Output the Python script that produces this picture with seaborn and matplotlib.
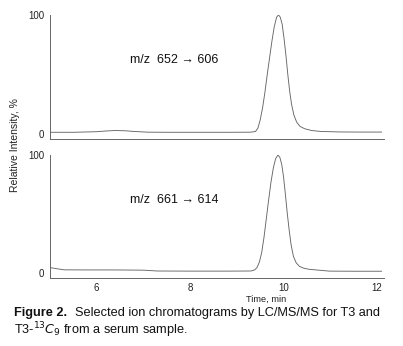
import matplotlib
matplotlib.use("Agg")
import matplotlib.pyplot as plt
from matplotlib.ticker import MultipleLocator, FixedLocator, FuncFormatter
import seaborn as sns
import pandas as pd

# T3 transition m/z 652 -> 606
t3_time = [5.00, 5.50, 6.00, 6.20, 6.40, 6.60, 6.80, 7.10, 7.60, 8.20, 8.80,
           9.30, 9.40, 9.45, 9.50, 9.55, 9.60, 9.65, 9.70, 9.75, 9.80, 9.85,
           9.89, 9.93, 9.97, 10.01, 10.05, 10.09, 10.13, 10.17, 10.22, 10.28,
           10.35, 10.45, 10.60, 10.80, 11.20, 11.60, 12.10]
t3_signal = [1.5, 1.5, 2.0, 2.6, 3.0, 2.8, 2.2, 1.6, 1.5, 1.5, 1.5,
             1.6, 2.2, 5.0, 12.0, 22.0, 35.0, 50.0, 64.0, 78.0, 90.0, 98.0,
             100.0, 98.0, 92.0, 80.0, 66.0, 50.0, 36.0, 25.0, 16.0, 10.0,
             6.5, 4.5, 3.0, 2.2, 1.8, 1.7, 1.7]

# T3-13C9 internal standard, m/z 661 -> 614
is_time = [5.00, 5.15, 5.30, 5.80, 6.40, 7.00, 7.30, 8.00, 8.80,
           9.30, 9.38, 9.43, 9.48, 9.53, 9.58, 9.63, 9.68, 9.73, 9.78, 9.83,
           9.88, 9.92, 9.96, 10.00, 10.04, 10.08, 10.12, 10.16, 10.21, 10.27,
           10.34, 10.43, 10.55, 10.70, 10.98, 11.50, 12.10]
is_signal = [4.5, 3.5, 2.6, 2.5, 2.5, 2.3, 1.6, 1.5, 1.5,
             1.6, 2.5, 4.5, 9.0, 17.0, 30.0, 46.0, 62.0, 77.0, 89.0, 97.0,
             100.0, 98.0, 92.0, 81.0, 66.0, 50.0, 36.0, 24.0, 14.0, 8.5,
             5.5, 4.0, 3.0, 2.5, 1.5, 1.4, 1.4]

labels = ["m/z  652 \u2192 606", "m/z  661 \u2192 614"]
x_ticks = [6, 8, 10, 12]

sns.set_style("white")
plt.rcParams["font.family"] = ["Liberation Sans", "DejaVu Sans"]

fig = plt.figure(figsize=(4.03, 3.46), dpi=100)
ax_top = fig.add_axes([0.124, 0.598, 0.829, 0.359])
ax_bot = fig.add_axes([0.124, 0.197, 0.829, 0.355])

traces = [(ax_top, t3_time, t3_signal, labels[0]),
          (ax_bot, is_time, is_signal, labels[1])]

for ax, tt, yy, lab in traces:
    df = pd.DataFrame({"time": tt, "signal": yy})
    sns.lineplot(data=df, x="time", y="signal", ax=ax, color="#666666",
                 linewidth=0.65)
    ax.set_xlim(5.0, 12.15)
    ax.set_ylim(-4.2, 100)
    ax.set_xlabel("")
    ax.set_ylabel("")
    for s in ("top", "right"):
        ax.spines[s].set_visible(False)
    for s in ("left", "bottom"):
        ax.spines[s].set_color("#666666")
        ax.spines[s].set_linewidth(0.7)
    ax.yaxis.set_major_locator(FixedLocator([0, 100]))
    ax.yaxis.set_minor_locator(MultipleLocator(20))
    ax.xaxis.set_major_locator(MultipleLocator(0.5))
    ax.xaxis.set_minor_locator(MultipleLocator(0.1))
    ax.tick_params(axis="both", which="major", direction="out", length=2.5,
                   width=0.6, color="#666666", labelsize=7, pad=1.5,
                   labelcolor="#222222")
    ax.tick_params(axis="both", which="minor", direction="out", length=1.5,
                   width=0.5, color="#777777")
    ax.text(6.72, 62, lab, fontsize=9, color="#111111", va="center")

ax_top.xaxis.set_major_formatter(FuncFormatter(lambda v, p: ""))
ax_bot.xaxis.set_major_formatter(
    FuncFormatter(lambda v, p: f"{v:.0f}" if round(v, 3) in x_ticks else ""))

fig.text(0.037, 0.58, "Relative Intensity, %", rotation=90, fontsize=7.5,
         ha="center", va="center", color="#222222")
fig.text(0.66, 0.135, "Time, min", fontsize=6.7, ha="center", va="center",
         color="#222222")

# Caption: bold figure number followed by the plain description
cap_size = 9.2
head = fig.text(0.035, 0.095, "Figure 2.", fontsize=cap_size,
                fontweight="bold", color="#111111", va="center")
fig.canvas.draw()
bb = head.get_window_extent(renderer=fig.canvas.get_renderer())
x_after = bb.x1 / fig.bbox.width + 0.02
fig.text(x_after, 0.095,
         "Selected ion chromatograms by LC/MS/MS for T3 and",
         fontsize=cap_size, color="#111111", va="center")
fig.text(0.035, 0.045, r"T3-$^{13}\mathit{C}_{9}$ from a serum sample.",
         fontsize=cap_size, color="#111111", va="center")

fig.savefig("out.png", dpi=100)
